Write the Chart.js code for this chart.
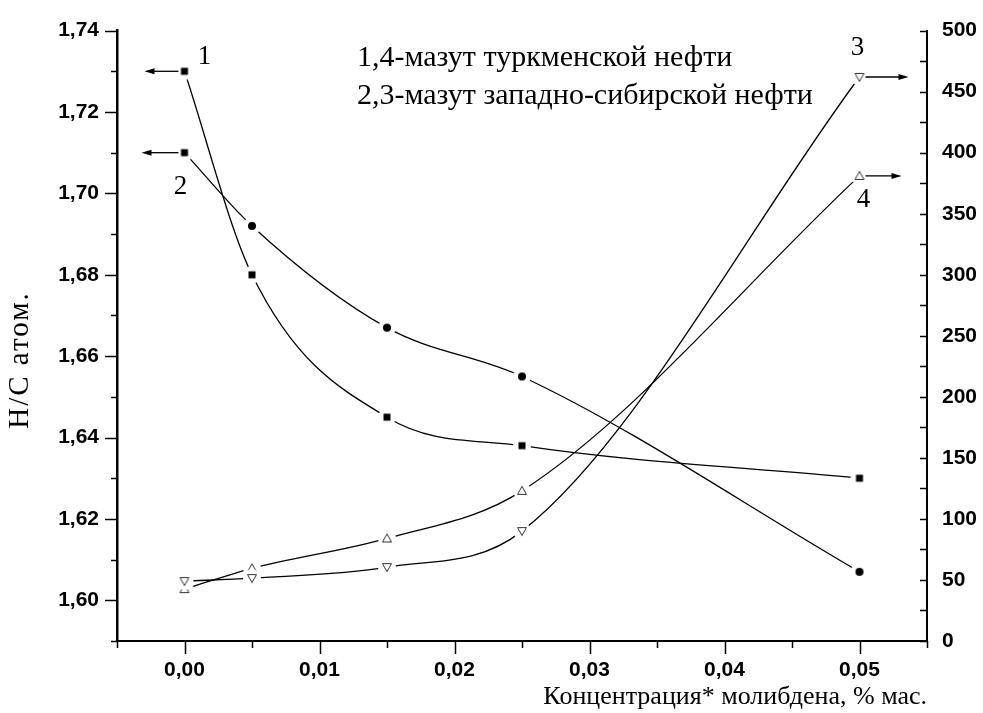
<!DOCTYPE html>
<html>
<head>
<meta charset="utf-8">
<script src="https://cdn.jsdelivr.net/npm/chart.js@4/dist/chart.umd.min.js"></script>
<style>
  html, body { margin: 0; padding: 0; background: #fff; }
  #wrap { width: 983px; height: 713px; position: relative; }
</style>
</head>
<body>
<div id="wrap"><canvas id="chart"></canvas></div>
<script>
// H/C vs molybdenum concentration, two mazut samples
const conc = [0, 0.005, 0.015, 0.025, 0.05];           // % mass
const hc1 = [1.730, 1.680, 1.645, 1.638, 1.630];       // curve 1 (left axis)
const hc2 = [1.710, 1.692, 1.667, 1.655, 1.607];       // curve 2 (left axis)
const val3 = [49, 51.5, 60.5, 90, 462];                // curve 3 (right axis)
const val4 = [42.5, 59.5, 84, 123, 381];               // curve 4 (right axis)
const curveNames = ['1', '2', '3', '4'];
const legendLines = ['1,4-мазут туркменской нефти', '2,3-мазут западно-сибирской нефти'];
const xTitle = 'Концентрация* молибдена, % мас.';
const yTitle = 'H/C атом.';

const SERIF = '"Liberation Serif", "DejaVu Serif", serif';
const SANS = '"Liberation Sans", Arial, sans-serif';

const pts = (ys) => conc.map((x, i) => ({ x, y: ys[i] }));
const isMult = (v, step) => Math.abs(Math.round(v / step) * step - v) < 1e-9;

// marker drawn on a small canvas: white halo (gap in the line) + the symbol
function marker(kind){
  const c = document.createElement('canvas');
  c.width = 20; c.height = 20;
  const g = c.getContext('2d');
  g.fillStyle = '#fff';
  g.beginPath(); g.arc(10, 10, 9, 0, Math.PI * 2); g.fill();
  g.fillStyle = '#000';
  g.strokeStyle = '#333';
  g.lineWidth = 1;
  if (kind === 'square'){
    g.fillRect(6.5, 6.5, 7, 7);
  } else if (kind === 'circle'){
    g.beginPath(); g.arc(10, 10, 4, 0, Math.PI * 2); g.fill();
  } else {
    g.beginPath();
    g.moveTo(10, 5.5); g.lineTo(14.5, 13.5); g.lineTo(5.5, 13.5);
    g.closePath(); g.stroke();
  }
  return c;
}
const mSquare = marker('square');
const mCircle = marker('circle');
const mTri = marker('tri');

function series(label, ys, axis, style, rot){
  return {
    label,
    data: pts(ys),
    yAxisID: axis,
    borderColor: '#000',
    borderWidth: 1.3,
    cubicInterpolationMode: 'monotone',
    pointStyle: style,
    pointRotation: rot,
    pointRadius: 10,
    fill: false
  };
}

// tick marks: long on labelled values, short in between; right axis points inward
const axisTicks = {
  id: 'axisTicks',
  afterDraw(chart){
    const { ctx } = chart;
    const { x, y, y2 } = chart.scales;
    ctx.save();
    ctx.strokeStyle = '#000';
    ctx.lineWidth = 1.5;
    ctx.beginPath();
    x.ticks.forEach(t => {
      const px = Math.round(x.getPixelForValue(t.value)) + 0.5;
      const len = isMult(t.value, 0.01) ? 13 : 7;
      ctx.moveTo(px, x.top); ctx.lineTo(px, x.top + len);
    });
    y.ticks.forEach(t => {
      const py = Math.round(y.getPixelForValue(t.value)) + 0.5;
      const len = isMult(t.value, 0.02) ? 12 : 6;
      ctx.moveTo(y.right, py); ctx.lineTo(y.right - len, py);
    });
    y2.ticks.forEach(t => {
      const py = Math.round(y2.getPixelForValue(t.value)) + 0.5;
      ctx.moveTo(y2.left, py); ctx.lineTo(y2.left - 7, py);
    });
    ctx.stroke();
    ctx.restore();
  }
};

// arrows, curve numbers, legend text and the left title
const notes = {
  id: 'notes',
  afterDatasetsDraw(chart){
    const { ctx } = chart;
    const xs = chart.scales.x;
    const yl = chart.scales.y;
    const yr = chart.scales.y2;

    function arrow(x1, y, x2){
      const dir = x2 > x1 ? 1 : -1;
      ctx.beginPath();
      ctx.moveTo(x1, y);
      ctx.lineTo(x2 - dir * 6, y);
      ctx.stroke();
      ctx.beginPath();
      ctx.moveTo(x2, y);
      ctx.lineTo(x2 - dir * 10, y - 3);
      ctx.lineTo(x2 - dir * 10, y + 3);
      ctx.closePath();
      ctx.fill();
    }

    ctx.save();
    ctx.strokeStyle = '#000';
    ctx.fillStyle = '#000';
    ctx.lineWidth = 1.3;

    const last = conc.length - 1;
    const p1 = { x: xs.getPixelForValue(conc[0]), y: yl.getPixelForValue(hc1[0]) };
    const p2 = { x: xs.getPixelForValue(conc[0]), y: yl.getPixelForValue(hc2[0]) };
    const p3 = { x: xs.getPixelForValue(conc[last]), y: yr.getPixelForValue(val3[last]) };
    const p4 = { x: xs.getPixelForValue(conc[last]), y: yr.getPixelForValue(val4[last]) };

    arrow(p1.x - 6, p1.y, p1.x - 40);
    arrow(p2.x - 6, p2.y, p2.x - 43);
    arrow(p3.x + 6, p3.y, p3.x + 49);
    arrow(p4.x + 6, p4.y, p4.x + 42);

    ctx.font = '27px ' + SERIF;
    ctx.textAlign = 'center';
    ctx.textBaseline = 'middle';
    ctx.fillText(curveNames[0], p1.x + 20, p1.y - 14);
    ctx.fillText(curveNames[1], p2.x - 4, p2.y + 34);
    ctx.fillText(curveNames[2], p3.x - 2, p3.y - 29);
    ctx.fillText(curveNames[3], p4.x + 4, p4.y + 24);

    ctx.font = '30px ' + SERIF;
    ctx.textAlign = 'left';
    ctx.fillText(legendLines[0], 357, 58);
    ctx.fillText(legendLines[1], 357, 96);

    // rotated y title
    ctx.translate(20, 360);
    ctx.rotate(-Math.PI / 2);
    ctx.font = '29px ' + SERIF;
    ctx.textAlign = 'center';
    ctx.letterSpacing = '2px';
    ctx.fillText(yTitle, 0, 0);
    ctx.restore();
  }
};

const tickFont = { family: SANS, size: 21, weight: 'bold' };

new Chart(document.getElementById('chart'), {
  type: 'line',
  data: {
    datasets: [
      series('1', hc1, 'y', mSquare, 0),
      series('2', hc2, 'y', [mSquare, mCircle, mCircle, mCircle, mCircle], 0),
      series('3', val3, 'y2', mTri, 180),
      series('4', val4, 'y2', mTri, 0)
    ]
  },
  options: {
    responsive: true,
    maintainAspectRatio: false,
    animation: false,
    layout: { padding: { top: 29, left: 0, right: 0, bottom: 0 } },
    plugins: { legend: { display: false }, tooltip: { enabled: false } },
    scales: {
      x: {
        type: 'linear',
        min: -0.005,
        max: 0.055,
        afterFit: s => { s.height = 72; },
        border: { color: '#000', width: 2 },
        grid: { drawOnChartArea: false, drawTicks: false },
        ticks: {
          stepSize: 0.005,
          autoSkip: false,
          maxRotation: 0,
          padding: 17,
          color: '#000',
          font: tickFont,
          callback: v => (isMult(v, 0.01) && v > -0.001) ? v.toFixed(2).replace('.', ',') : ''
        },
        afterBuildTicks: s => {
          s.ticks = [];
          for (let i = 0; i <= 12; i++) s.ticks.push({ value: -0.005 + i * 0.005 });
        },
        title: {
          display: true,
          text: xTitle,
          align: 'end',
          color: '#000',
          font: { family: SERIF, size: 26 },
          padding: { top: 0, bottom: 0 }
        }
      },
      y: {
        type: 'linear',
        position: 'left',
        min: 1.59,
        max: 1.74,
        afterFit: s => { s.width = 117; },
        border: { color: '#000', width: 2.5 },
        grid: { drawOnChartArea: false, drawTicks: false },
        ticks: {
          stepSize: 0.01,
          autoSkip: false,
          padding: 18,
          color: '#000',
          font: tickFont,
          callback: v => (isMult(v, 0.02) && v > 1.595) ? v.toFixed(2).replace('.', ',') : ''
        },
        afterBuildTicks: s => {
          s.ticks = [];
          for (let i = 0; i <= 15; i++) s.ticks.push({ value: 1.59 + i * 0.01 });
        }
      },
      y2: {
        type: 'linear',
        position: 'right',
        min: 0,
        max: 500,
        afterFit: s => { s.width = 56; },
        border: { color: '#000', width: 2 },
        grid: { drawOnChartArea: false, drawTicks: false },
        ticks: {
          stepSize: 25,
          autoSkip: false,
          padding: 15,
          color: '#000',
          font: tickFont,
          callback: v => (isMult(v, 50)) ? String(Math.round(v)) : ''
        }
      }
    }
  },
  plugins: [notes, axisTicks]
});
</script>
</body>
</html>
